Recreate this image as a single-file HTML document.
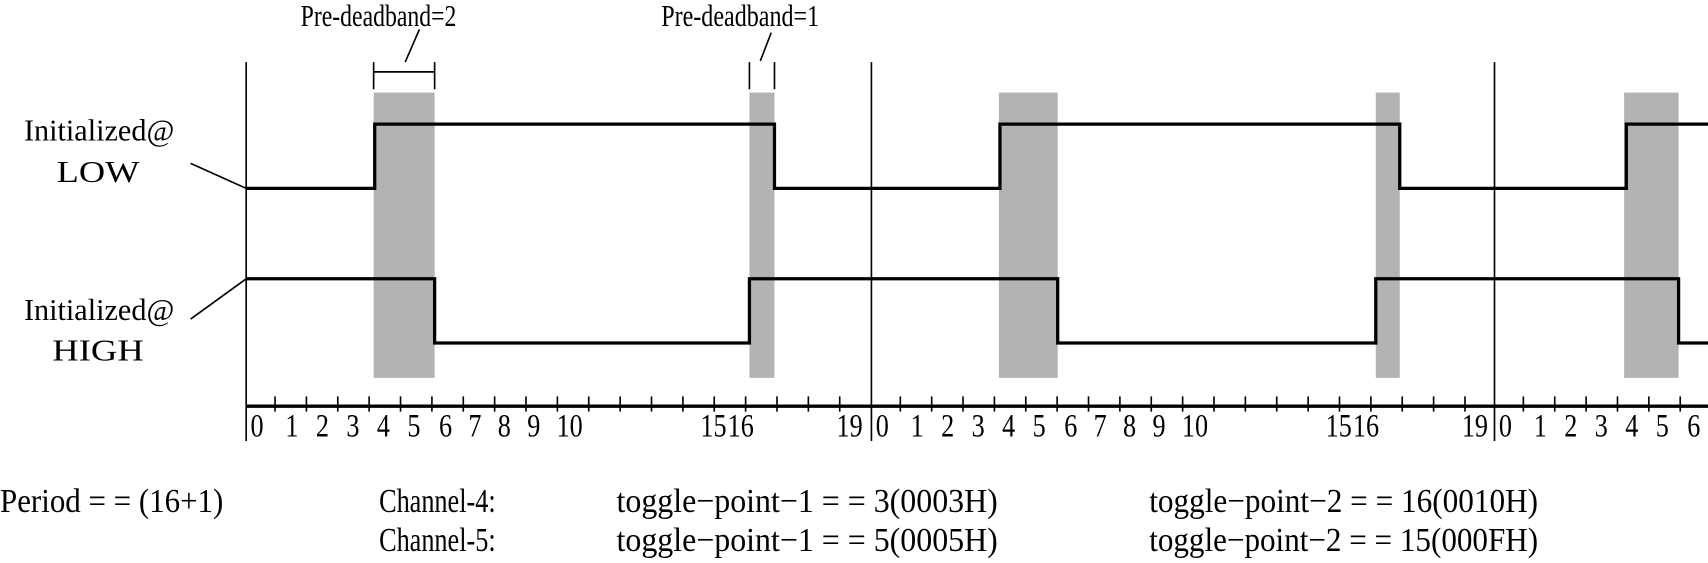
<!DOCTYPE html>
<html><head><meta charset="utf-8"><style>
html,body{margin:0;padding:0;background:#fff;}
svg{display:block;}
text{font-family:"Liberation Serif",serif;fill:#000;}
</style></head><body>
<svg width="1708" height="563" viewBox="0 0 1568 517" preserveAspectRatio="none" xmlns="http://www.w3.org/2000/svg">
<g fill="#b3b3b3">
<rect x="343" y="85" width="56" height="262"/>
<rect x="688" y="85" width="23" height="262"/>
<rect x="917" y="85" width="54" height="262"/>
<rect x="1263" y="85" width="22" height="262"/>
<rect x="1491" y="85" width="50" height="262"/>
</g>
<g stroke="#000" stroke-width="1.5" fill="none">
<line x1="226" y1="57" x2="226" y2="405"/>
<line x1="800" y1="57" x2="800" y2="405"/>
<line x1="1372" y1="57" x2="1372" y2="405"/>
<line x1="175" y1="150" x2="226" y2="173"/>
<line x1="175" y1="293" x2="226" y2="256"/>
<line x1="343" y1="57" x2="343" y2="82"/><line x1="399" y1="57" x2="399" y2="82"/><line x1="343" y1="66" x2="399" y2="66"/>
<line x1="372" y1="57" x2="385" y2="27"/>
<line x1="688" y1="57" x2="688" y2="82"/><line x1="711" y1="57" x2="711" y2="82"/>
<line x1="698" y1="56" x2="708" y2="30"/>
</g>
<g stroke="#000" stroke-width="3" fill="none">
<polyline points="226,173 344,173 344,114 711,114 711,173 918,173 918,114 1285,114 1285,173 1493,173 1493,114 1568,114"/>
<polyline points="226,256 399,256 399,315 688,315 688,256 971,256 971,315 1263,315 1263,256 1541,256 1541,315 1568,315"/>
<line x1="226" y1="373" x2="1568" y2="373"/>
</g>
<g stroke="#000" stroke-width="1.5" id="ticks">
</g>
<g font-size="28">
<text x="22" y="129" textLength="138" lengthAdjust="spacingAndGlyphs">Initialized@</text>
<text x="52" y="167" textLength="76" lengthAdjust="spacingAndGlyphs">LOW</text>
<text x="22" y="294" textLength="138" lengthAdjust="spacingAndGlyphs">Initialized@</text>
<text x="48" y="331" textLength="84" lengthAdjust="spacingAndGlyphs">HIGH</text>
<text x="276" y="24" textLength="143" lengthAdjust="spacingAndGlyphs">Pre-deadband=2</text>
<text x="607" y="24" textLength="145" lengthAdjust="spacingAndGlyphs">Pre-deadband=1</text>
</g>
<g font-size="31">
<text x="0" y="470" textLength="205" lengthAdjust="spacingAndGlyphs">Period = = (16+1)</text>
<text x="348" y="470" textLength="107" lengthAdjust="spacingAndGlyphs">Channel-4:</text>
<text x="566" y="470" textLength="350" lengthAdjust="spacingAndGlyphs">toggle−point−1 = = 3(0003H)</text>
<text x="1055" y="470" textLength="357" lengthAdjust="spacingAndGlyphs">toggle−point−2 = = 16(0010H)</text>
<text x="348" y="506" textLength="107" lengthAdjust="spacingAndGlyphs">Channel-5:</text>
<text x="566" y="506" textLength="350" lengthAdjust="spacingAndGlyphs">toggle−point−1 = = 5(0005H)</text>
<text x="1055" y="506" textLength="357" lengthAdjust="spacingAndGlyphs">toggle−point−2 = = 15(000FH)</text>
</g>
<g font-size="30" id="labels"></g>
<script>
var t=document.getElementById('ticks'),l=document.getElementById('labels'),ns='http://www.w3.org/2000/svg';
var labs=[[0,230],[1,262],[2,290],[3,318],[4,346],[5,374],[6,403],[7,430],[8,457],[9,484],[10,511],[15,643],[16,668],[19,768]];
[0,574,1146].forEach(function(o){
 for(var k=0;k<19;k++){var x=252.5+28.8*k+o; if(x>1566)break; if(o==0&&x>790)break; if(x>790&&x<806)continue;
  var ln=document.createElementNS(ns,'line');ln.setAttribute('x1',x);ln.setAttribute('x2',x);ln.setAttribute('y1',364);ln.setAttribute('y2',378);t.appendChild(ln);}
 labs.forEach(function(a){var x=a[1]+o; if(x>1560)return; var tx=document.createElementNS(ns,'text');tx.setAttribute('x',x);tx.setAttribute('y',401);
  var s=String(a[0]);tx.setAttribute('textLength',s.length*12);tx.setAttribute('lengthAdjust','spacingAndGlyphs');tx.textContent=s;l.appendChild(tx);});
});
</script>
</svg>
</body></html>
